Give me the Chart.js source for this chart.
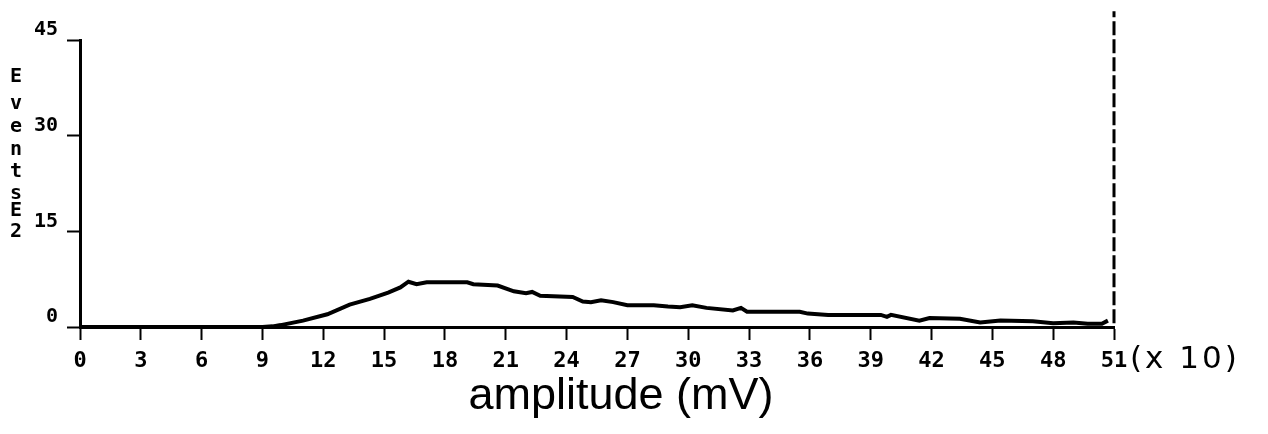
<!DOCTYPE html>
<html>
<head>
<meta charset="utf-8">
<script src="https://cdn.jsdelivr.net/npm/chart.js@4.4.1/dist/chart.umd.min.js"></script>
<style>
  html, body { margin: 0; padding: 0; background: #fff; }
  #chartArea { width: 1268px; height: 434px; position: relative; }
</style>
</head>
<body>
<div id="chartArea"><canvas id="myChart"></canvas></div>
<script>
// amplitude in units of 10 mV, events in units of 100
const amplitude = [0, 9, 9.5, 9.9, 11.0, 12.2, 13.3, 14.3, 15.2, 15.8, 16.2, 16.6, 17.1, 18.1, 19.1, 19.4, 20.6, 21.4, 22.0, 22.3, 22.7, 24.3, 24.8, 25.2, 25.7, 26.3, 27.0, 28.3, 29.0, 29.6, 30.2, 30.9, 32.2, 32.6, 32.9, 35.5, 35.9, 36.9, 37.5, 39.5, 39.8, 40.0, 41.4, 41.9, 43.4, 44.4, 45.4, 47.0, 48.0, 49.0, 49.7, 50.4, 50.7];
const events = [0, 0, 0.1, 0.3, 1.0, 2.0, 3.5, 4.4, 5.4, 6.2, 7.1, 6.7, 7.0, 7.0, 7.0, 6.7, 6.5, 5.6, 5.3, 5.5, 4.9, 4.7, 4.0, 3.9, 4.2, 3.9, 3.4, 3.4, 3.2, 3.1, 3.4, 3.0, 2.6, 3.0, 2.4, 2.4, 2.1, 1.9, 1.9, 1.9, 1.6, 1.9, 1.0, 1.4, 1.3, 0.7, 1.0, 0.9, 0.6, 0.7, 0.5, 0.5, 1.0];

// last channel (overflow) runs off the top of the plot
const overflowX = [51, 51];
const overflowY = [0.6, 49.5];

const xTicks = [0, 3, 6, 9, 12, 15, 18, 21, 24, 27, 30, 33, 36, 39, 42, 45, 48, 51];
const yTicks = [0, 15, 30, 45];

const xTitle = 'amplitude (mV)';
const xUnit = '(x 10)';
const yTitle = ['E', 'v', 'e', 'n', 't', 's', 'E', '2'];

const tickFont = { family: 'DejaVu Sans Mono', size: 22, weight: 'bold' };

const extraText = {
  id: 'extraText',
  afterDraw(chart) {
    const ctx = chart.ctx;
    const area = chart.chartArea;
    ctx.save();
    ctx.fillStyle = '#000';

    // x axis title
    ctx.font = '45px "Liberation Sans"';
    ctx.textAlign = 'center';
    ctx.textBaseline = 'alphabetic';
    ctx.fillText(xTitle, 621, 409);

    // scale factor after the last tick
    ctx.font = '31px "DejaVu Sans"';
    ctx.textAlign = 'left';
    ctx.textBaseline = 'middle';
    ctx.letterSpacing = '3px';
    ctx.fillText(xUnit, area.right + 16, 360);
    ctx.letterSpacing = '0px';

    // stacked y title
    ctx.font = 'bold 20px "DejaVu Sans Mono"';
    ctx.textAlign = 'center';
    const ys = [77, 104, 127, 150, 172, 194, 211, 232];
    yTitle.forEach((ch, i) => ctx.fillText(ch, 16, ys[i]));
    ctx.restore();
  },
};

let chart;
function createChart() {
  const ctx = document.getElementById('myChart').getContext('2d');
  chart = new Chart(ctx, {
    type: 'line',
    data: {
      datasets: [
        {
          data: amplitude.map((x, i) => ({ x: x, y: events[i] })),
          borderColor: '#000',
          borderWidth: 4,
          pointRadius: 0,
          tension: 0,
        },
        {
          data: overflowX.map((x, i) => ({ x: x, y: overflowY[i] })),
          borderColor: '#000',
          borderWidth: 3,
          borderDash: [14, 4],
          pointRadius: 0,
          clip: false,
        },
      ],
    },
    options: {
      responsive: true,
      maintainAspectRatio: false,
      animation: false,
      layout: { padding: { top: 40, right: 154, left: 0, bottom: 0 } },
      plugins: { legend: { display: false }, tooltip: { enabled: false } },
      scales: {
        x: {
          type: 'linear',
          min: 0,
          max: 51,
          afterBuildTicks: (scale) => {
            scale.ticks = xTicks.map((v) => ({ value: v }));
          },
          afterFit: (scale) => {
            scale.height = 107;
          },
          border: { display: true, color: '#000', width: 3 },
          grid: { drawOnChartArea: false, drawTicks: true, tickLength: 13, tickWidth: 2, tickColor: '#000' },
          ticks: { color: '#000', font: tickFont, padding: 8, maxRotation: 0, autoSkip: false },
        },
        y: {
          min: 0,
          max: 45,
          afterBuildTicks: (scale) => {
            scale.ticks = yTicks.map((v) => ({ value: v }));
          },
          afterFit: (scale) => {
            scale.width = 80;
          },
          border: { display: true, color: '#000', width: 3 },
          grid: { drawOnChartArea: false, drawTicks: true, tickLength: 13, tickWidth: 2, tickColor: '#000' },
          ticks: { color: '#000', font: { family: 'DejaVu Sans Mono', size: 20, weight: 'bold' }, padding: 9, labelOffset: -10 },
        },
      },
    },
    plugins: [extraText],
  });
}

createChart();
</script>
</body>
</html>
